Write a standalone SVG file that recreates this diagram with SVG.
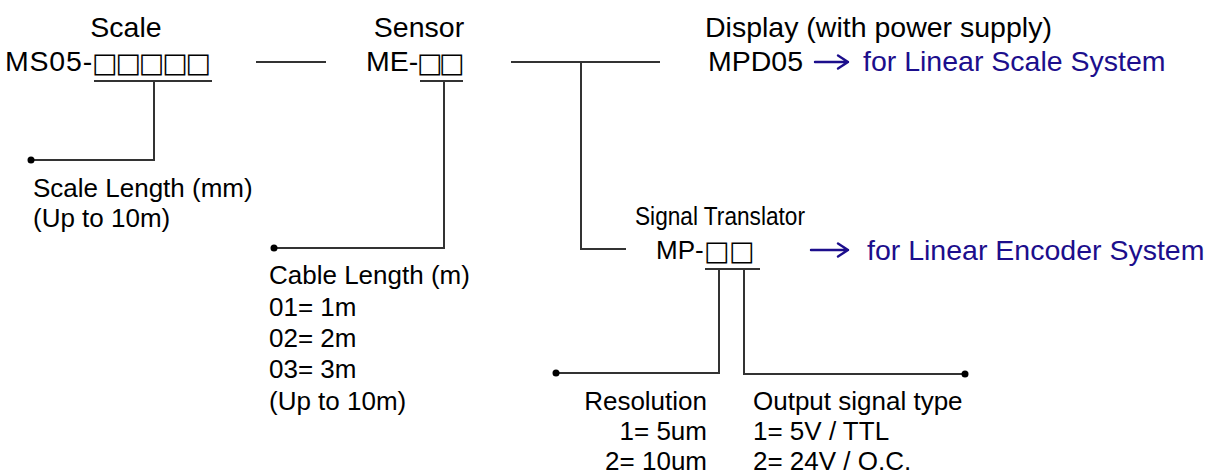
<svg xmlns="http://www.w3.org/2000/svg" width="1209" height="476" viewBox="0 0 1209 476">
<style>
text{font-family:"Liberation Sans",Arial,sans-serif;fill:#000}
.t28{font-size:28.5px}
.t26{font-size:26px}
.box{font-family:"DejaVu Sans",sans-serif;font-size:27px}
.blue{fill:#1c0e8c}
.ln{stroke:#333;stroke-width:2;fill:none}
.arr{stroke:#1c0e8c;stroke-width:2.4;fill:none;stroke-linecap:round;stroke-linejoin:round}
.dot{fill:#000}
</style>
<rect width="1209" height="476" fill="#fff"/>
<g id="scale">
<text class="t28" x="126" y="37" text-anchor="middle">Scale</text>
<text class="t28" x="5" y="71" letter-spacing="0.8">MS05-</text>
<text class="box" x="92 115.4 138.8 162.2 185.6" y="72">□□□□□</text>
</g>
<g id="sensor">
<text class="t28" x="419" y="37" text-anchor="middle">Sensor</text>
<text class="t28" x="366" y="71">ME-</text>
<text class="box" x="417 439" y="72">□□</text>
</g>
<g id="display">
<text class="t28" x="705" y="37">Display (with power supply)</text>
<text class="t28" x="708" y="71">MPD05</text>
<path class="arr" d="M815 62H848M838 55.5L848 62L838 68.5"/>
<text class="t28 blue" x="863" y="71">for Linear Scale System</text>
</g>
<g id="translator">
<text class="t26" x="635" y="225" textLength="170" lengthAdjust="spacingAndGlyphs">Signal Translator</text>
<text class="t26" x="656" y="259">MP-</text>
<text class="box" x="704 729" y="260">□□</text>
<path class="arr" d="M811 250H848M838 243.5L848 250L838 256.5"/>
<text class="t28 blue" x="867" y="260">for Linear Encoder System</text>
</g>
<g id="scale-length">
<text class="t26" x="33" y="197">Scale Length (mm)</text>
<text class="t26" x="33" y="227">(Up to 10m)</text>
</g>
<g id="cable-length">
<text class="t26" x="269" y="284">Cable Length (m)</text>
<text class="t26" x="269" y="316">01= 1m</text>
<text class="t26" x="269" y="347">02= 2m</text>
<text class="t26" x="269" y="378">03= 3m</text>
<text class="t26" x="269" y="410">(Up to 10m)</text>
</g>
<g id="resolution">
<text class="t26" x="707" y="410" text-anchor="end">Resolution</text>
<text class="t26" x="707" y="440" text-anchor="end">1= 5um</text>
<text class="t26" x="707" y="470" text-anchor="end">2= 10um</text>
</g>
<g id="output-signal">
<text class="t26" x="753" y="410">Output signal type</text>
<text class="t26" x="753" y="440">1= 5V / TTL</text>
<text class="t26" x="753" y="470">2= 24V / O.C.</text>
</g>
<g id="connectors">
<path class="ln" d="M94 81H212M154 81V160H31"/>
<path class="ln" d="M256 62H326"/>
<path class="ln" d="M420 81H463M444 81V248H274"/>
<path class="ln" d="M511 62H660M581 62V249H626"/>
<path class="ln" d="M705 269H760M719 269V373H556M744 269V374H965"/>
<circle class="dot" cx="31" cy="160" r="3.5"/>
<circle class="dot" cx="274" cy="248" r="3.5"/>
<circle class="dot" cx="556" cy="373" r="3.5"/>
<circle class="dot" cx="965" cy="374" r="3.5"/>
</g>
</svg>
